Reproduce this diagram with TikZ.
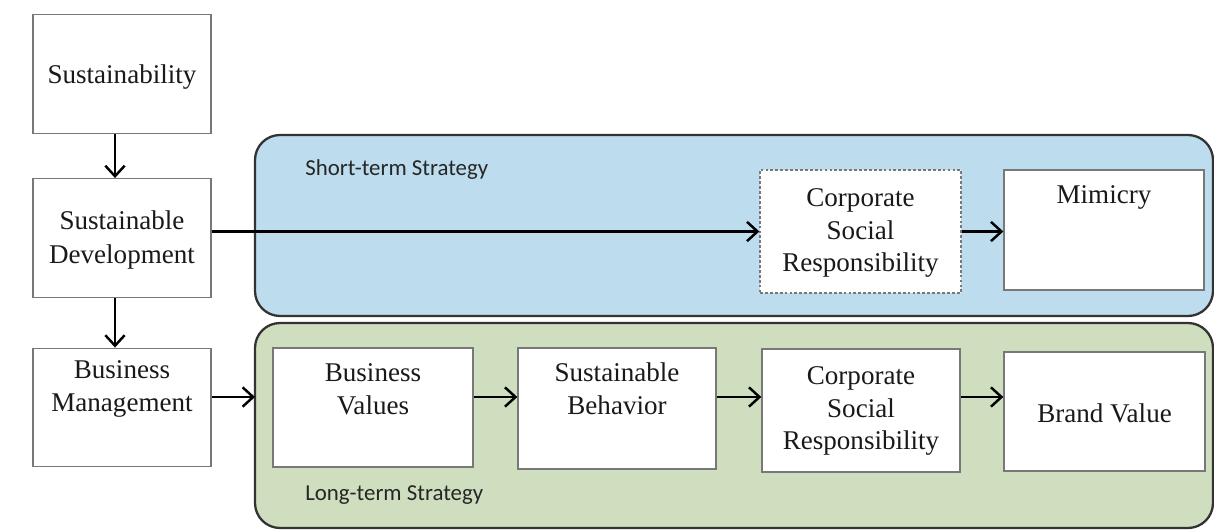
\documentclass[tikz,border=0pt]{standalone}
\usepackage{fontspec}
\setmainfont{Liberation Serif}
\newfontfamily\stratfont{Carlito}
\usepackage{xcolor}
\usetikzlibrary{arrows.meta,positioning,calc}

\definecolor{shortblue}{RGB}{189,220,237}
\definecolor{longgreen}{RGB}{206,222,190}
\definecolor{edgegray}{RGB}{120,120,120}

\tikzset{
    box/.style={draw=edgegray, line width=0.8pt, fill=white, inner sep=0pt,
        minimum width=4cm, minimum height=2.4cm},
    leftbox/.style={box, minimum width=3.56cm, minimum height=2.37cm},
    dashbox/.style={box, dash pattern=on 1.6pt off 1.2pt},
    txt/.style={align=center, font=\fontsize{15.4}{18.6}\selectfont, inner sep=0pt, text=black!90},
    region/.style={draw=black!80, line width=1.3pt, rounded corners=0.5cm},
    stratlabel/.style={anchor=west, font=\stratfont\fontsize{13}{15}\selectfont, text=black!85, inner sep=0pt},
    flow/.style={-{Straight Barb[length=6pt,width=11pt]}, line width=1.4pt}
}

\begin{document}
\begin{tikzpicture}[x=0.02cm, y=-0.02cm]
    \useasboundingbox (0,0) rectangle (1214,530);

    % Strategy regions
    \draw[region, fill=shortblue] (255,135) rectangle (1213,316);
    \draw[region, fill=longgreen] (255,323) rectangle (1213,528);
    \node[stratlabel] (shortlbl) at (305,170) {Short-term Strategy};
    \node[stratlabel] (longlbl) at (305,495) {Long-term Strategy};

    % Left column
    \node[leftbox] (sus) at (122,74) {};
    \node[txt] (sustxt) at (122,77) {Sustainability};
    \node[leftbox] (sd) at (122,238) {};
    \node[txt, font=\fontsize{15.4}{19.8}\selectfont] (sdtxt) at (122,240) {Sustainable\\Development};
    \node[leftbox] (bm) at (122,407.5) {};
    \node[txt] (bmtxt) at (122,389) {Business\\Management};

    % Short-term row
    \node[dashbox, minimum width=4.02cm, minimum height=2.46cm] (csrtop) at (860.5,231.5) {};
    \node[txt] (csrtoptxt) at (860.5,233) {Corporate\\Social\\Responsibility};
    \node[box, minimum height=2.4cm] (mim) at (1104,230) {};
    \node[txt] (mimtxt) at (1104,197) {Mimicry};

    % Long-term row
    \node[box, minimum height=2.38cm] (bv) at (373,407.5) {};
    \node[txt] (bvtxt) at (373,389) {Business\\Values};
    \node[box, minimum width=3.96cm, minimum height=2.42cm] (sb) at (617,408.5) {};
    \node[txt] (sbtxt) at (617,389) {Sustainable\\Behavior};
    \node[box, minimum width=3.96cm, minimum height=2.46cm] (csrbot) at (861,410.5) {};
    \node[txt] (csrbottxt) at (861,411) {Corporate\\Social\\Responsibility};
    \node[box, minimum width=4.02cm, minimum height=2.38cm] (brand) at (1104.5,411.5) {};
    \node[txt] (brandtxt) at (1104.5,413) {Brand Value};

    % Connectors
    \coordinate (row) at (0,397);
    \coordinate (downx) at (115,0);
    \draw[flow] (sus.south -| downx) -- (sd.north -| downx);
    \draw[flow] (sd.south -| downx) -- (bm.north -| downx);
    \draw[flow] (sd.east |- csrtop.west) -- (csrtop.west);
    \draw[flow] (csrtop.east) -- (mim.west |- csrtop.east);
    \draw[flow] (bm.east |- row) -- (255,397);
    \draw[flow] (bv.east |- row) -- (sb.west |- row);
    \draw[flow] (sb.east |- row) -- (csrbot.west |- row);
    \draw[flow] (csrbot.east |- row) -- (brand.west |- row);
\end{tikzpicture}
\end{document}
